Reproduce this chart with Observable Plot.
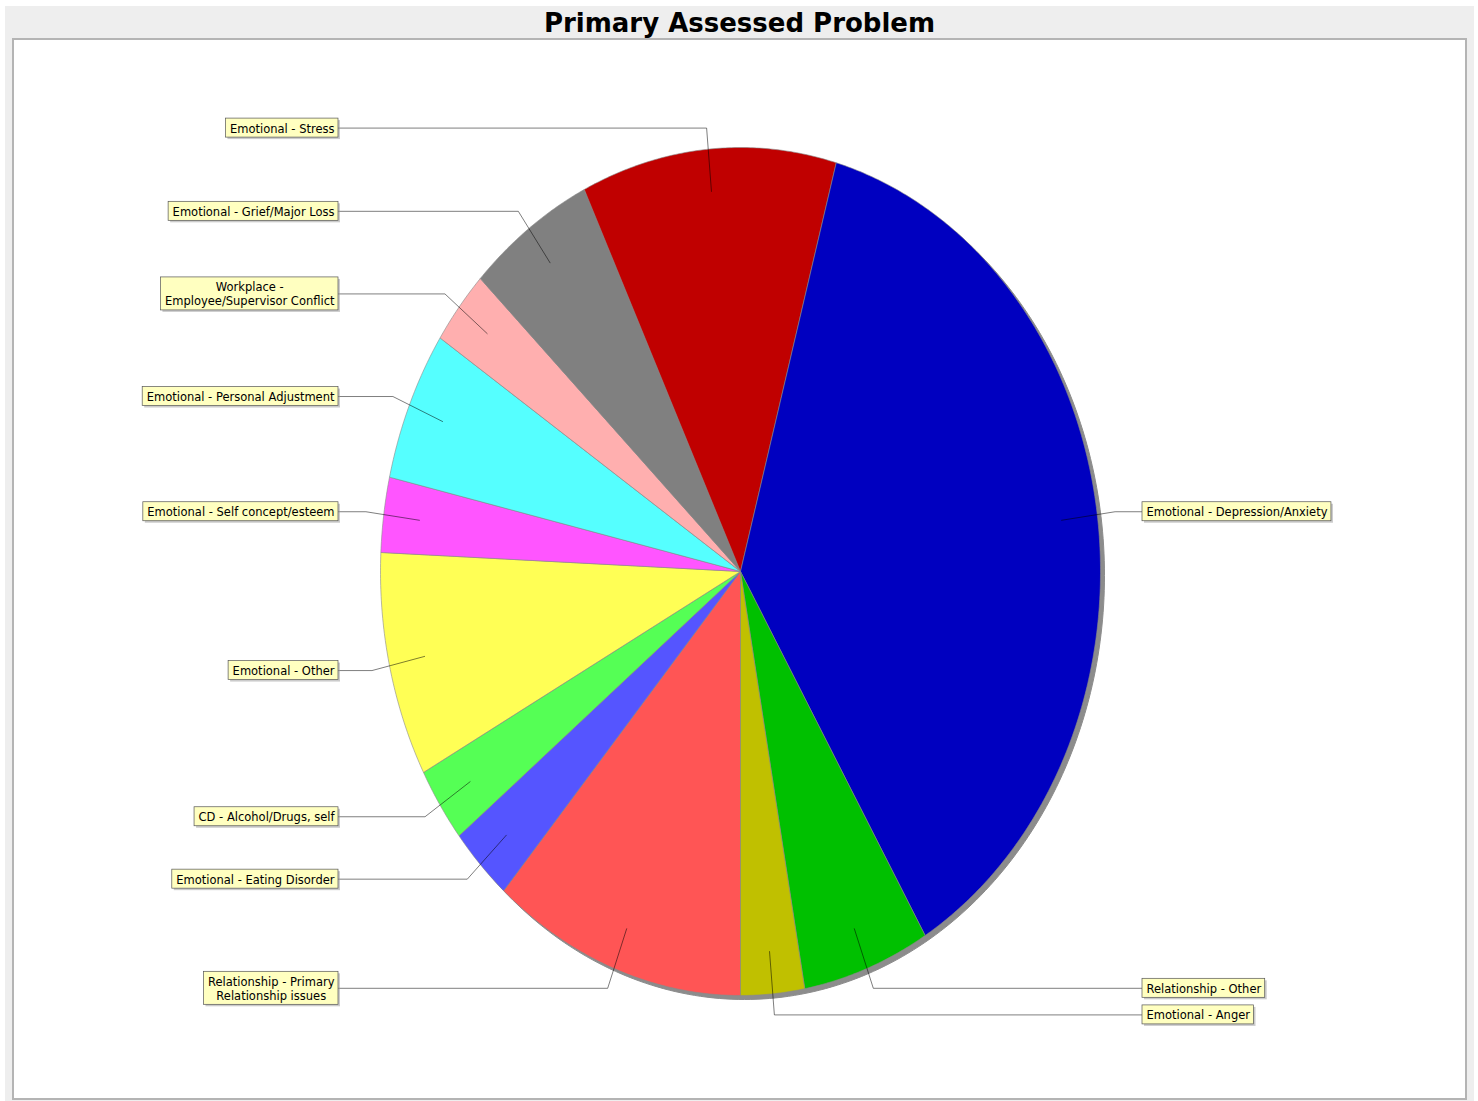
<!DOCTYPE html>
<html><head><meta charset="utf-8">
<script src="https://cdn.jsdelivr.net/npm/d3@7"></script>
<script src="https://cdn.jsdelivr.net/npm/@observablehq/plot@0.6"></script>
<style>
html,body{margin:0;padding:0;background:#fff;width:1478px;height:1101px;overflow:hidden}
#panel{position:absolute;left:5px;top:6px;width:1469px;height:1095px;background:#eeeeee}
#title{position:absolute;left:5px;top:8px;width:1469px;text-align:center;font:bold 26px "DejaVu Sans";line-height:30px;color:#000}
#chart{position:absolute;left:12px;top:38px;border:2px solid #b4b4b4;background:#fff;width:1451px;height:1058px}
#chart svg{display:block}
</style></head>
<body>
<div id="panel"></div>
<div id="title">Primary Assessed Problem</div>
<div id="chart"></div>
<script>
// ---- data ----
const categories = [
  "Relationship - Primary Relationship issues",
  "Emotional - Eating Disorder",
  "CD - Alcohol/Drugs, self",
  "Emotional - Other",
  "Emotional - Self concept/esteem",
  "Emotional - Personal Adjustment",
  "Workplace - Employee/Supervisor Conflict",
  "Emotional - Grief/Major Loss",
  "Emotional - Stress",
  "Emotional - Depression/Anxiety",
  "Relationship - Other",
  "Emotional - Anger"
];
const counts = [4, 1, 1, 3, 1, 2, 1, 2, 4, 13, 2, 1];
const labelTexts = [
  "Relationship - Primary\nRelationship issues",
  "Emotional - Eating Disorder",
  "CD - Alcohol/Drugs, self",
  "Emotional - Other",
  "Emotional - Self concept/esteem",
  "Emotional - Personal Adjustment",
  "Workplace -\nEmployee/Supervisor Conflict",
  "Emotional - Grief/Major Loss",
  "Emotional - Stress",
  "Emotional - Depression/Anxiety",
  "Relationship - Other",
  "Emotional - Anger"
];
const colors = ["#ff5555","#5555ff","#55ff55","#ffff55","#ff55ff","#55ffff",
                "#ffafaf","#808080","#c00000","#0000c0","#00c000","#c0c000"];

// ---- layout ----
const W = 1451, H = 1058;
const xRange = [366, 1086], yRange = [107, 955];
const xs = d3.scaleLinear([-1, 1], xRange);
const ys = d3.scaleLinear([-1, 1], yRange);
const startDeg = 180;           // start at bottom, clockwise
const total = d3.sum(counts);
const rad = d => d * Math.PI / 180;
const px = (r, deg) => r * Math.sin(rad(deg));
const py = (r, deg) => -r * Math.cos(rad(deg));

let acc = 0;
const slices = categories.map((name, i) => {
  const a0 = startDeg + acc / total * 360;
  acc += counts[i];
  const a1 = startDeg + acc / total * 360;
  return {name, label: labelTexts[i], color: colors[i], a0, a1, mid: (a0 + a1) / 2};
});

const slicePts = [];
for (const s of slices) {
  slicePts.push({name: s.name, color: s.color, x: 0, y: 0});
  const n = Math.max(2, Math.ceil((s.a1 - s.a0) / 0.5));
  for (let k = 0; k <= n; k++) {
    const a = s.a0 + (s.a1 - s.a0) * k / n;
    slicePts.push({name: s.name, color: s.color, x: px(1, a), y: py(1, a)});
  }
  slicePts.push({name: s.name, color: s.color, x: 0, y: 0});
}
const shadowPts = d3.range(0, 361, 1).map(a => ({x: px(1, a), y: py(1, a)}));

const fs = 11.5, fontFam = "DejaVu Sans";
const ctx = document.createElement("canvas").getContext("2d");
ctx.font = `${fs}px "${fontFam}"`;
const linkPct = 0.9, elbowPct = 1.05, gapPx = 24, padX = 4, lineH = 14;

const labels = slices.map(s => {
  const m = ((s.mid % 360) + 360) % 360;
  const right = m < 180;
  const ex = px(elbowPct, s.mid), ey = py(elbowPct, s.mid);
  const lines = s.label.split("\n");
  const tw = d3.max(lines, l => ctx.measureText(l).width);
  const bw = tw + 2 * padX, bh = lines.length * lineH + 5;
  const edgePx = right ? xs(elbowPct) + gapPx : xs(-elbowPct) - gapPx;
  const x1p = right ? edgePx : edgePx - bw, x2p = x1p + bw;
  const cyp = ys(ey);
  return {
    name: s.name, text: s.label,
    ax: px(linkPct, s.mid), ay: py(linkPct, s.mid), ex, ey,
    tx: xs.invert(edgePx),
    x1: xs.invert(x1p), x2: xs.invert(x2p),
    y1: ys.invert(cyp - bh / 2), y2: ys.invert(cyp + bh / 2),
    cx: xs.invert((x1p + x2p) / 2)
  };
});
const linkPts = labels.flatMap(l => [
  {name: l.name, x: l.ax, y: l.ay},
  {name: l.name, x: l.ex, y: l.ey},
  {name: l.name, x: l.tx, y: l.ey}
]);

const chart = Plot.plot({
  width: W, height: H,
  margin: 0,
  x: {domain: [-1, 1], range: xRange, axis: null},
  y: {domain: [-1, 1], range: yRange, axis: null},
  color: {type: "identity"},
  style: {background: "white", overflow: "visible"},
  marks: [
    Plot.line(shadowPts, {x: "x", y: "y", fill: "#8c8c8c", stroke: "#8c8c8c", strokeWidth: 1, dx: 4, dy: 4}),
    Plot.line(slicePts, {x: "x", y: "y", z: "name", fill: "color", stroke: "#8a8a8a", strokeWidth: 0.6, strokeLinejoin: "round"}),
    Plot.line(linkPts, {x: "x", y: "y", z: "name", stroke: "#000", strokeWidth: 0.6, strokeOpacity: 0.85}),
    Plot.rect(labels, {x1: "x1", x2: "x2", y1: "y1", y2: "y2", fill: "rgba(151,151,151,0.5)", dx: 2, dy: 2}),
    Plot.rect(labels, {x1: "x1", x2: "x2", y1: "y1", y2: "y2", fill: "#ffffc0", stroke: "#555", strokeWidth: 0.7}),
    Plot.text(labels, {x: "cx", y: "ey", text: "text", fontSize: fs, fontFamily: fontFam, fill: "#000",
                       textAnchor: "middle", lineAnchor: "middle", lineHeight: lineH / fs})
  ]
});

document.getElementById("chart").appendChild(chart);
</script>
</body></html>
